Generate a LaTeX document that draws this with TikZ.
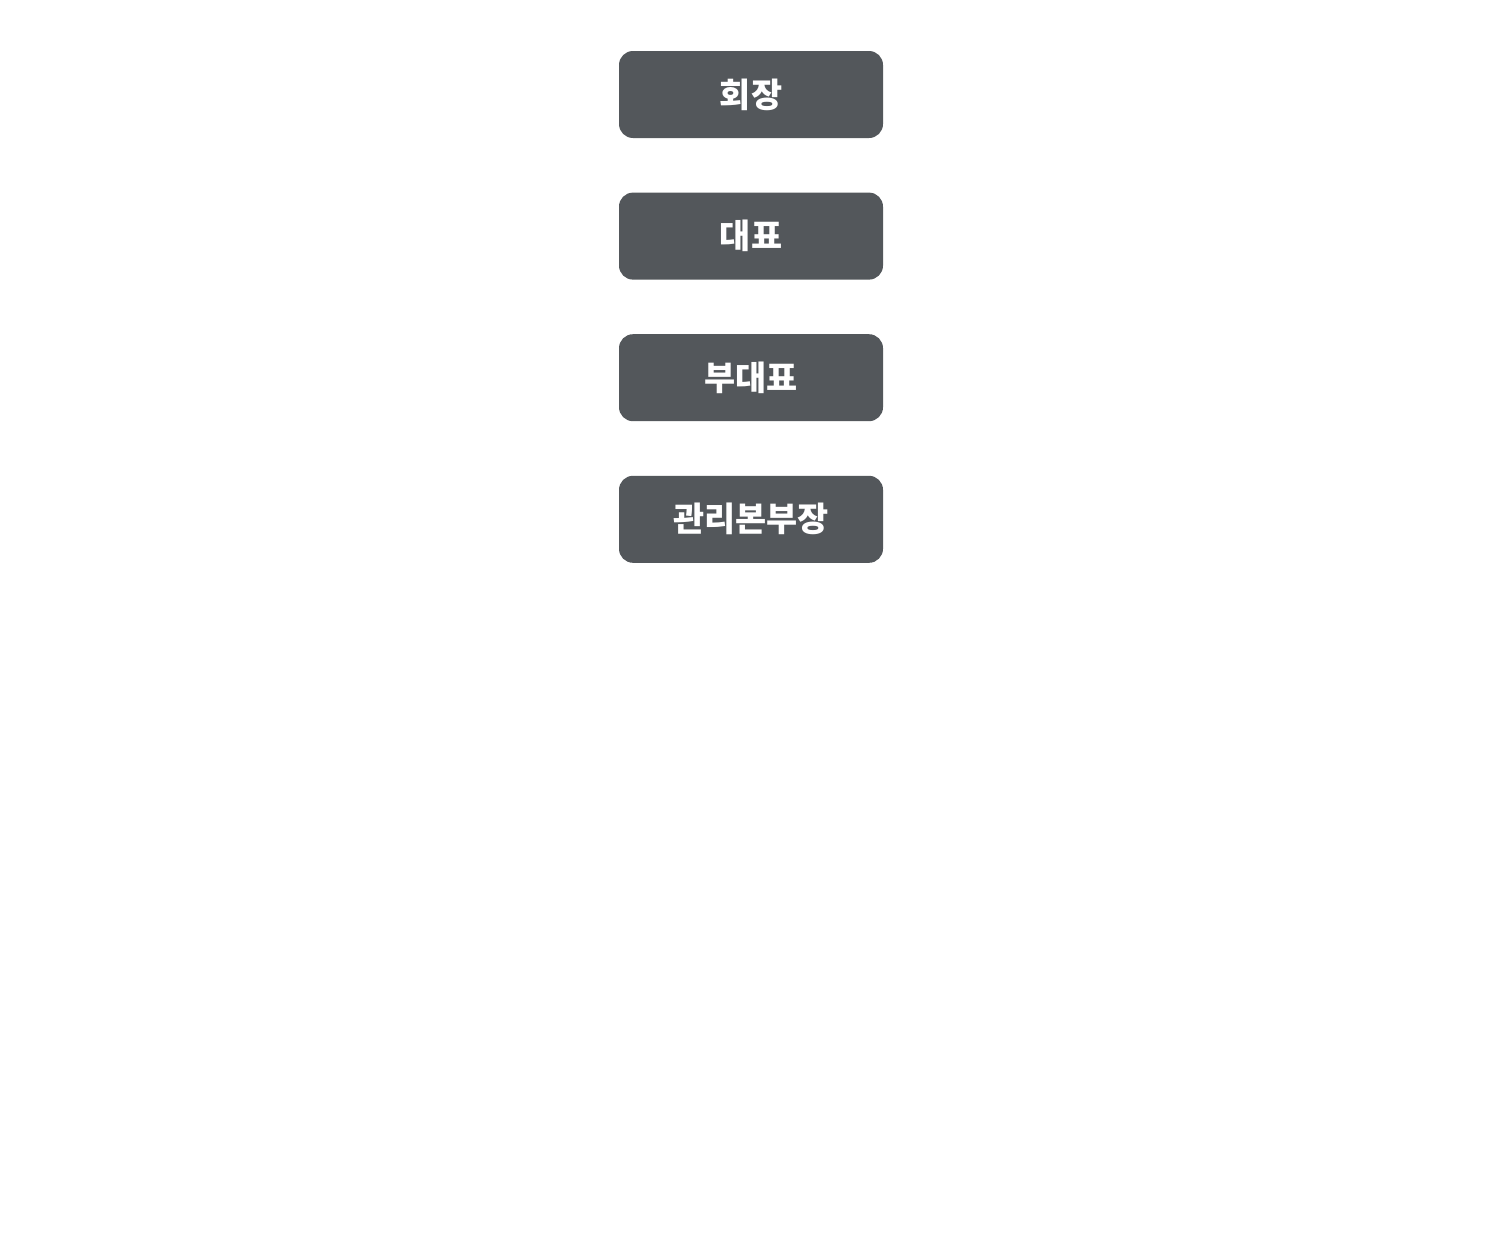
\documentclass[tikz,border=0pt]{standalone}
\usepackage{fontspec}
\newfontfamily\krfont{Noto Sans CJK KR}
\usetikzlibrary{positioning}
\definecolor{boxgray}{HTML}{53575B}
\tikzset{
  rank/.style = { fill=boxgray, rounded corners=7pt, text=white,
    minimum width=132pt, minimum height=43.5pt, inner sep=0pt,
    font=\krfont\bfseries\fontsize{16.9}{20}\selectfont }
}
\begin{document}
\begin{tikzpicture}[node distance=26.9pt]
    \useasboundingbox (0,0) rectangle (750pt,-621pt);
    % chain of ranks, top to bottom
    \node[rank] (r0) at (375.5pt,-47.25pt) {회장};
    \node[rank, below=of r0] (r1) {대표};
    \node[rank, below=of r1] (r2) {부대표};
    \node[rank, below=of r2] (r3) {관리본부장};
  \end{tikzpicture}
\end{document}
